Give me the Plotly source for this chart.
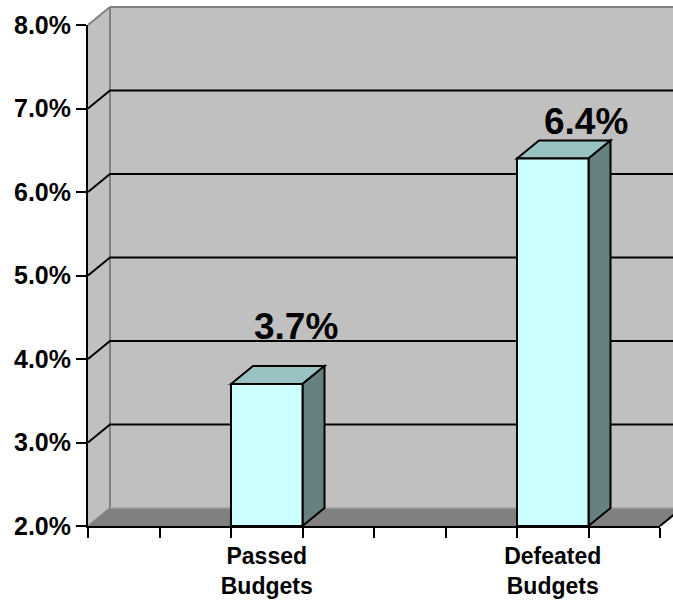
import plotly.graph_objects as go

# ---- data ----
categories = ["Passed<br>Budgets", "Defeated<br>Budgets"]
values = [3.7, 6.4]
slot_index = [2, 6]          # category slot on the 8-slot axis
n_slots = 8
y_ticks = [2, 3, 4, 5, 6, 7, 8]
label_texts = ["3.7%", "6.4%"]

# ---- layout / style ----
W, H = 673, 600
PL, PR, PT, PB = 88, 660, 25, 526      # front plane in pixels
DX, DY = 22, 18                        # 3D depth offset in pixels
X_RANGE = [0, n_slots]
Y_RANGE = [2, 8]
X_DOM = [PL / W, PR / W]
Y_DOM = [(H - PB) / H, (H - PT) / H]
FONT = "Liberation Sans, Arial, sans-serif"
WALL = "#C0C0C0"
FLOOR = "#808080"
EDGE = "#808080"
FRONT = "#CCFFFF"
TOP = "#99C2C2"
SIDE = "#668080"
label_xshift = [29, 33]
label_yshift = [58, 37]


def P(x, y, back=False):
    fx = X_DOM[0] + (x - X_RANGE[0]) / (X_RANGE[1] - X_RANGE[0]) * (X_DOM[1] - X_DOM[0])
    fy = Y_DOM[0] + (y - Y_RANGE[0]) / (Y_RANGE[1] - Y_RANGE[0]) * (Y_DOM[1] - Y_DOM[0])
    if back:
        fx += DX / W
        fy += DY / H
    return fx, fy


def path(pts, close=True):
    s = "M " + " L ".join(f"{x:.5f},{y:.5f}" for x, y in pts)
    return s + (" Z" if close else "")


shapes = []


def add(pts, fill=None, line_color=None, width=0, close=True):
    shapes.append(dict(
        type="path", xref="paper", yref="paper", layer="below",
        path=path(pts, close),
        fillcolor=fill if fill else "rgba(0,0,0,0)",
        line=dict(color=line_color if line_color else "rgba(0,0,0,0)", width=width),
    ))


x0, x1 = X_RANGE
y0, y1 = Y_RANGE
# back wall
add([P(x0, y0, True), P(x1, y0, True), P(x1, y1, True), P(x0, y1, True)], fill=WALL)
# left side wall
add([P(x0, y0), P(x0, y0, True), P(x0, y1, True), P(x0, y1)], fill=WALL)
# floor
add([P(x0, y0), P(x1, y0), P(x1, y0, True), P(x0, y0, True)], fill=FLOOR)
# wall edges
add([P(x0, y0, True), P(x0, y1, True)], line_color=EDGE, width=2, close=False)
add([P(x0, y1, True), P(x1, y1, True)], line_color=EDGE, width=2, close=False)
add([P(x0, y1), P(x0, y1, True)], line_color=EDGE, width=2, close=False)
add([P(x0, y0), P(x0, y0, True)], line_color=EDGE, width=1.5, close=False)
add([P(x0, y0, True), P(x1, y0, True)], line_color="#A0A0A0", width=1.5, close=False)
add([P(x1, y0), P(x1, y0, True)], line_color="black", width=2, close=False)
# gridlines on the side and back wall
for v in y_ticks[1:-1]:
    add([P(x0, v), P(x0, v, True), P(x1, v, True)], line_color="black", width=2, close=False)

# bar top and side faces
bar_x = [s + 0.5 for s in slot_index]
for s, v in zip(slot_index, values):
    a, b = s, s + 1
    add([P(a, v), P(a, v, True), P(b, v, True), P(b, v)], fill=TOP, line_color="black", width=2)
    add([P(b, y0), P(b, v), P(b, v, True), P(b, y0, True)], fill=SIDE, line_color="black", width=2)

fig = go.Figure()
fig.add_trace(go.Bar(
    x=bar_x, y=[v - Y_RANGE[0] for v in values], base=Y_RANGE[0], width=1,
    marker=dict(color=FRONT, line=dict(color="black", width=2)),
    hoverinfo="skip", showlegend=False,
))

annotations = []
for bx, v, t, xs, ys in zip(bar_x, values, label_texts, label_xshift, label_yshift):
    annotations.append(dict(
        x=bx, y=v, xref="x", yref="y", text=t, showarrow=False,
        xshift=xs, yshift=ys, xanchor="center", yanchor="middle",
        font=dict(family=FONT, size=37, color="black", weight="bold"),
    ))

fig.update_layout(
    width=W, height=H,
    margin=dict(l=0, r=0, t=0, b=0, pad=0),
    paper_bgcolor="white", plot_bgcolor="rgba(0,0,0,0)",
    shapes=shapes, annotations=annotations,
    xaxis=dict(
        domain=X_DOM, range=X_RANGE, showgrid=False, zeroline=False, automargin=False,
        showline=True, linecolor="black", linewidth=2,
        tickmode="array", tickvals=bar_x, ticktext=categories,
        ticks="", ticklabelstandoff=8,
        tickfont=dict(family=FONT, size=23, color="black", weight="bold"),
        minor=dict(tickmode="array", tickvals=list(range(n_slots + 1)),
                   ticks="outside", ticklen=10, tickwidth=2, tickcolor="black", showgrid=False),
        fixedrange=True,
    ),
    yaxis=dict(
        domain=Y_DOM, range=Y_RANGE, showgrid=False, zeroline=False, automargin=False,
        showline=True, linecolor="black", linewidth=2,
        tickmode="array", tickvals=y_ticks, ticktext=[f"{v:.1f}%" for v in y_ticks],
        ticks="outside", ticklen=10, tickwidth=2, tickcolor="black",
        tickfont=dict(family=FONT, size=25, color="black", weight="bold"),
        fixedrange=True,
    ),
)

fig.write_html("out.html")
